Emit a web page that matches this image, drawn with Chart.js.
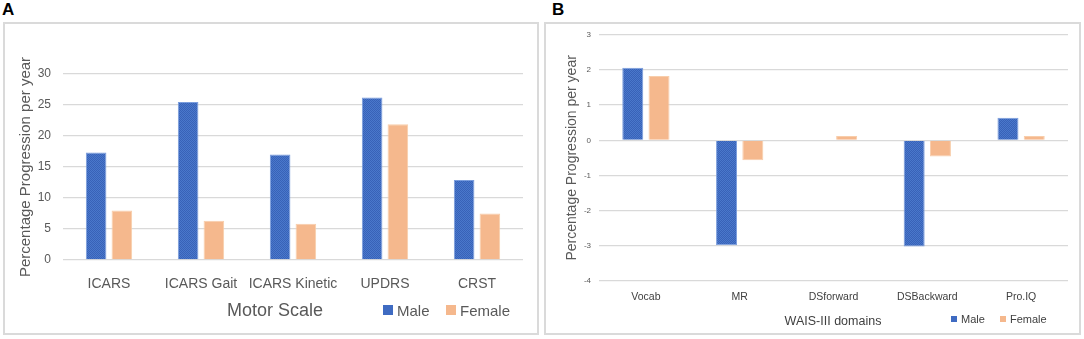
<!DOCTYPE html>
<html>
<head>
<meta charset="utf-8">
<script src="https://cdn.jsdelivr.net/npm/chart.js@4.4.1/dist/chart.umd.min.js"></script>
<style>
  html, body { margin: 0; padding: 0; background: #ffffff; }
  body { width: 1084px; height: 339px; position: relative; overflow: hidden;
         font-family: 'Liberation Sans', Arial, sans-serif; }
  .frame { position: absolute; box-sizing: border-box; border: 2px solid #dadada; }
  canvas { position: absolute; }
  .txt { position: absolute; white-space: nowrap; line-height: 1; transform: translate(-50%, -50%); }
  .lbl { position: absolute; white-space: nowrap; line-height: 1; transform: translate(0, -50%); }
  .sq { position: absolute; }
  .panel { position: absolute; font-weight: bold; color: #000; line-height: 17px; font-size: 17px; }
</style>
</head>
<body>
<div class="panel" style="left:2px; top:1px;">A</div>
<div class="panel" style="left:552px; top:1px;">B</div>

<div class="frame" style="left:3px; top:22px; width:536px; height:313px;"></div>
<div class="frame" style="left:544px; top:22px; width:537px; height:313px;"></div>

<canvas id="chartA" width="534" height="311" style="left:4px; top:22px;"></canvas>
<canvas id="chartB" width="535" height="312" style="left:545px; top:22px;"></canvas>

<div id="titleA" class="txt" style="left:275px; top:310px; font-size:18px; color:#595959;"></div>
<div id="titleB" class="txt" style="left:833px; top:321px; font-size:12.5px; color:#404040;"></div>

<div id="legA"></div>
<div id="legB"></div>

<script>
// ---------- data ----------
const motorCategories = ['ICARS', 'ICARS Gait', 'ICARS Kinetic', 'UPDRS', 'CRST'];
const motorMale   = [17.35, 25.5, 17.0, 26.2, 12.9];
const motorFemale = [8.0, 6.35, 5.85, 21.9, 7.5];
const motorTicks  = [0, 5, 10, 15, 20, 25, 30];

const waisCategories = ['Vocab', 'MR', 'DSforward', 'DSBackward', 'Pro.IQ'];
const waisMale   = [2.06, -2.98, 0, -3.02, 0.64];
const waisFemale = [1.83, -0.57, 0.12, -0.46, 0.12];
const waisTicks  = [-4, -3, -2, -1, 0, 1, 2, 3];

const seriesNames = ['Male', 'Female'];
const yTitle = 'Percentage Progression per year';
const xTitleA = 'Motor Scale';
const xTitleB = 'WAIS-III domains';

// ---------- styles ----------
const maleSolid = '#3f6bc2';
const femaleSolid = '#f5b88d';

function makePattern() {
  const c = document.createElement('canvas');
  c.width = 2; c.height = 2;
  const g = c.getContext('2d');
  g.fillStyle = '#4a78cb'; g.fillRect(0, 0, 2, 2);
  g.fillStyle = '#3862b8'; g.fillRect(0, 0, 1, 1); g.fillRect(1, 1, 1, 1);
  return g.createPattern(c, 'repeat');
}
const malePattern = makePattern();

Chart.defaults.font.family = "'Liberation Sans', Arial, sans-serif";
Chart.defaults.animation = false;

function buildChart(id, cats, male, female, ticks, o) {
  return new Chart(document.getElementById(id), {
    type: 'bar',
    data: {
      labels: cats,
      datasets: [
        { label: seriesNames[0], data: male, backgroundColor: o.maleBg,
          borderColor: '#7a9ddd', borderWidth: 1,
          categoryPercentage: 0.56, barPercentage: 0.8 },
        { label: seriesNames[1], data: female, backgroundColor: femaleSolid,
          borderColor: '#f8cdaa', borderWidth: 1,
          categoryPercentage: 0.56, barPercentage: 0.8 }
      ]
    },
    options: {
      responsive: false,
      maintainAspectRatio: false,
      animation: false,
      layout: { padding: { top: o.padTop, right: o.padRight, left: 0, bottom: 0 } },
      plugins: { legend: { display: false }, tooltip: { enabled: false } },
      scales: {
        x: {
          grid: { display: false, drawTicks: false },
          border: { display: false },
          ticks: { color: o.catColor, font: { size: o.catSize }, padding: o.catPad, maxRotation: 0, autoSkip: false },
          afterFit: s => { s.height = o.xHeight; }
        },
        y: {
          min: ticks[0], max: ticks[ticks.length - 1],
          afterBuildTicks: s => { s.ticks = ticks.map(v => ({ value: v })); },
          grid: { color: '#d9d9d9', lineWidth: 1.3, drawTicks: false },
          border: { display: false },
          ticks: { color: '#595959', font: { size: o.tickSize }, padding: o.tickPad },
          title: { display: true, text: yTitle, color: '#595959',
                   font: { size: o.yTitleSize }, padding: { top: o.yTitlePad, bottom: 0 } },
          afterFit: s => { s.width = o.yWidth; }
        }
      }
    }
  });
}

buildChart('chartA', motorCategories, motorMale, motorFemale, motorTicks, {
  maleBg: malePattern, padTop: 52, padRight: 15, xHeight: 73, yWidth: 59,
  catColor: '#595959', catSize: 14, catPad: 16, tickSize: 12, tickPad: 12,
  yTitleSize: 15, yTitlePad: 13
});

buildChart('chartB', waisCategories, waisMale, waisFemale, waisTicks, {
  maleBg: malePattern, padTop: 11, padRight: 12, xHeight: 53, yWidth: 54,
  catColor: '#404040', catSize: 10.5, catPad: 10, tickSize: 8, tickPad: 8,
  yTitleSize: 14, yTitlePad: 18.6
});

// ---------- x titles & legends ----------
document.getElementById('titleA').textContent = xTitleA;
document.getElementById('titleB').textContent = xTitleB;

function legend(el, items) {
  const host = document.getElementById(el);
  items.forEach(it => {
    const sq = document.createElement('div');
    sq.className = 'sq';
    sq.style.cssText = `left:${it.sx}px; top:${it.cy - it.s / 2}px; width:${it.s}px; height:${it.s}px; background:${it.color};`;
    host.appendChild(sq);
    const t = document.createElement('div');
    t.className = 'lbl';
    t.style.cssText = `left:${it.tx}px; top:${it.cy}px; font-size:${it.fs}px; color:${it.tc};`;
    t.textContent = it.text;
    host.appendChild(t);
  });
}
legend('legA', [
  { text: seriesNames[0], color: maleSolid, sx: 383, tx: 397, cy: 310, s: 10, fs: 15, tc: '#595959' },
  { text: seriesNames[1], color: femaleSolid, sx: 446, tx: 460, cy: 310, s: 10, fs: 15, tc: '#595959' }
]);
legend('legB', [
  { text: seriesNames[0], color: maleSolid, sx: 951, tx: 961, cy: 319, s: 6, fs: 11, tc: '#404040' },
  { text: seriesNames[1], color: femaleSolid, sx: 1000, tx: 1010, cy: 319, s: 6, fs: 11, tc: '#404040' }
]);
</script>
</body>
</html>
